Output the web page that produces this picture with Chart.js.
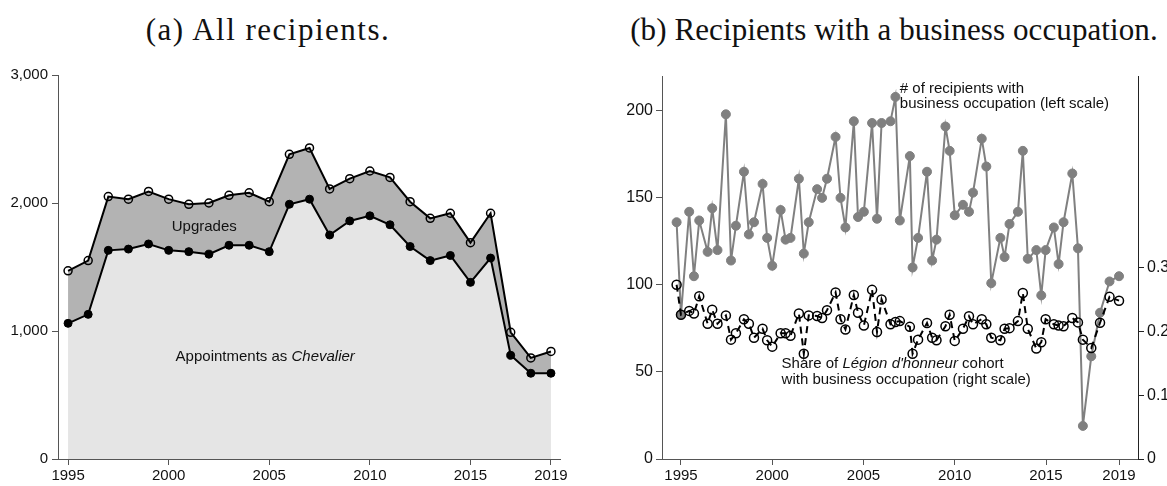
<!DOCTYPE html>
<html><head><meta charset="utf-8">
<script src="https://cdn.jsdelivr.net/npm/chart.js@4"></script>
<style>
body{margin:0;background:#fff;width:1167px;height:486px;position:relative;overflow:hidden}
canvas{position:absolute;top:0}
.title{position:absolute;top:12px;font-family:"Liberation Serif",serif;font-size:31px;line-height:36px;text-align:center;color:#111;white-space:nowrap}
</style></head><body>
<div class="title" style="left:0;width:536px;letter-spacing:1.5px">(a) All recipients.</div>
<div class="title" style="left:594px;width:600px;letter-spacing:0.1px">(b) Recipients with a business occupation.</div>
<canvas id="a" width="583" height="486" style="left:0"></canvas>
<canvas id="b" width="584" height="486" style="left:583px"></canvas>
<script>
// ---- Panel (a) data ----
const years = [1995,1996,1997,1998,1999,2000,2001,2002,2003,2004,2005,2006,2007,2008,2009,2010,2011,2012,2013,2014,2015,2016,2017,2018,2019];
const totalRecipients = [1470,1550,2050,2030,2090,2030,1990,2000,2060,2080,2010,2380,2430,2110,2190,2250,2200,2010,1880,1920,1690,1920,990,790,840];
const chevalierAppointments = [1060,1130,1630,1640,1680,1630,1620,1600,1670,1670,1620,1990,2030,1750,1860,1900,1830,1660,1550,1590,1380,1570,810,670,670];
const leftYTicks = [0,1000,2000,3000];
const leftXTicks = [1995,2000,2005,2010,2015,2019];

// ---- Panel (b) data ----
const decreeDates = [1994.76,
 1995.0,1995.45,1995.71, 1996.0,1996.46,1996.71, 1997.0,1997.46,1997.74, 1998.01,1998.45,1998.72,
 1999.0,1999.47,1999.72, 2000.0,2000.46,2000.73, 2001.0,2001.46,2001.73, 2002.0,2002.46,2002.73,
 2003.0,2003.47,2003.74, 2004.01,2004.47,2004.7, 2005.02,2005.47,2005.74, 2005.99,2006.48,2006.75,
 2006.99,2007.54,2007.69, 2007.99,2008.48,2008.76, 2009.0,2009.49,2009.72, 2010.0,2010.45,2010.78,
 2011.0,2011.48,2011.73, 2012.0,2012.5,2012.73, 2013.0,2013.46,2013.73, 2014.0,2014.47,2014.74,
 2014.98,2015.43,2015.69, 2015.96,2016.44,2016.75, 2017.02,2017.48,2017.96, 2018.48,2019.0];
const businessCount = [136,
 83,142,105, 137,119,144, 120,198,114, 134,165,129,
 136,158,127, 111,143,126, 127,161,118, 136,155,150,
 161,185,150, 133,194,139, 142,193,138, 193,194,208,
 137,174,110, 127,165,114, 126,191,177, 140,146,142,
 153,184,168, 101,127,116, 135,142,177, 115,120,94,
 120,133,112, 136,164,121, 19,59,84, 102,105];
const businessShare = [0.273,
 0.226,0.232,0.228, 0.255,0.212,0.234, 0.212,0.225,0.187, 0.197,0.219,0.212,
 0.190,0.204,0.186, 0.176,0.197,0.197, 0.193,0.228,0.165, 0.225,0.224,0.221,
 0.233,0.261,0.219, 0.203,0.257,0.229, 0.209,0.265,0.199, 0.250,0.211,0.2145,
 0.216,0.207,0.165, 0.187,0.213,0.190, 0.186,0.208,0.226, 0.185,0.204,0.2235,
 0.211,0.219,0.211, 0.190,0.186,0.204, 0.205,0.216,0.260, 0.204,0.173,0.183,
 0.219,0.211,0.209, 0.208,0.221,0.214, 0.187,0.174,0.2135, 0.254,0.248];
const rightLeftTicks = [0,50,100,150,200];
const rightRightTicks = [0,0.1,0.2,0.3];
const rightXTicks = [1995,2000,2005,2010,2015,2019];

const FONT = '"Liberation Sans", Arial, sans-serif';
const AX = '#555';
const TXT = '#111';

function fixedTicks(arr){ return function(scale){ scale.ticks = arr.map(v => ({value: v})); }; }

function drawRich(ctx, parts, x, y, align){
  const fonts = parts.map(p => (p[1] ? 'italic ' : '') + '15px ' + FONT);
  const widths = parts.map((p,i) => { ctx.font = fonts[i]; return ctx.measureText(p[0]).width; });
  const total = widths.reduce((a,b) => a + b, 0);
  let cx = align === 'center' ? x - total/2 : x;
  ctx.textAlign = 'left'; ctx.textBaseline = 'middle'; ctx.fillStyle = TXT;
  parts.forEach((p,i) => { ctx.font = fonts[i]; ctx.fillText(p[0], cx, y); cx += widths[i]; });
}

function axisStyle(extra){
  return Object.assign({
    grid:{display:true, drawOnChartArea:false, drawTicks:true, tickLength:6, tickWidth:1, color:AX},
    border:{display:true, color:AX, width:1}
  }, extra);
}

// ---- Panel (a) ----
new Chart(document.getElementById('a'), {
  type:'line',
  data:{datasets:[
    {label:'Appointments as Chevalier',
     data: years.map((y,i) => ({x:y, y:chevalierAppointments[i]})),
     borderColor:'#000', borderWidth:2, backgroundColor:'#e5e5e5', fill:'origin',
     pointRadius:4, pointBackgroundColor:'#000', pointBorderColor:'#000', pointBorderWidth:1,
     tension:0, clip:false},
    {label:'All recipients',
     data: years.map((y,i) => ({x:y, y:totalRecipients[i]})),
     borderColor:'#000', borderWidth:2, backgroundColor:'#b3b3b3', fill:'-1',
     pointRadius:4, pointBackgroundColor:'rgba(0,0,0,0)', pointBorderColor:'#000', pointBorderWidth:1.5,
     tension:0, clip:false}
  ]},
  options:{
    responsive:false, animation:false, devicePixelRatio:1,
    layout:{padding:{top:75, right:23, left:0, bottom:0}},
    plugins:{legend:{display:false}, tooltip:{enabled:false}},
    scales:{
      x: axisStyle({type:'linear', min:1994.5, max:2019.45,
          afterBuildTicks: fixedTicks(leftXTicks), afterFit: s => { s.height = 27; },
          ticks:{font:{family:FONT, size:15}, color:TXT, padding:2, maxRotation:0, autoSkip:false, callback: v => String(v)}}),
      y: axisStyle({type:'linear', min:0, max:3000,
          afterBuildTicks: fixedTicks(leftYTicks), afterFit: s => { s.width = 58; },
          ticks:{font:{family:FONT, size:15}, color:TXT, padding:4, callback: v => v.toLocaleString('en-US')}})
    }
  },
  plugins:[{id:'panelALabels', afterDatasetsDraw(chart){
    const ctx = chart.ctx, x = chart.scales.x, y = chart.scales.y;
    ctx.save();
    drawRich(ctx, [['Upgrades', false]], x.getPixelForValue(2001.77), y.getPixelForValue(1812), 'center');
    drawRich(ctx, [['Appointments as ', false], ['Chevalier', true]], x.getPixelForValue(2004.8), y.getPixelForValue(797), 'center');
    ctx.restore();
  }}]
});

// ---- Panel (b) ----
new Chart(document.getElementById('b'), {
  type:'line',
  data:{datasets:[
    {label:'Share of cohort with business occupation',
     data: decreeDates.map((d,i) => ({x:d, y:businessShare[i]})), yAxisID:'yR',
     borderColor:'#000', borderWidth:2, borderDash:[7,5], fill:false,
     pointRadius:4.5, pointBackgroundColor:'rgba(0,0,0,0)', pointBorderColor:'#000', pointBorderWidth:1.5,
     tension:0, clip:false},
    {label:'# of recipients with business occupation',
     data: decreeDates.map((d,i) => ({x:d, y:businessCount[i]})), yAxisID:'yL',
     borderColor:'#808080', borderWidth:2, fill:false,
     pointRadius:4.5, pointBackgroundColor:'#808080', pointBorderColor:'#808080', pointBorderWidth:1,
     tension:0, clip:false}
  ]},
  options:{
    responsive:false, animation:false, devicePixelRatio:1,
    layout:{padding:{top:76, right:0, left:0, bottom:0}},
    plugins:{legend:{display:false}, tooltip:{enabled:false}},
    scales:{
      x: axisStyle({type:'linear', min:1993.96, max:2020.04,
          afterBuildTicks: fixedTicks(rightXTicks), afterFit: s => { s.height = 27; },
          ticks:{font:{family:FONT, size:15}, color:TXT, padding:2, maxRotation:0, autoSkip:false, callback: v => String(v)}}),
      yL: axisStyle({type:'linear', position:'left', min:0, max:220,
          afterBuildTicks: fixedTicks(rightLeftTicks), afterFit: s => { s.width = 79; },
          ticks:{font:{family:FONT, size:16}, color:TXT, padding:3, callback: v => String(v)}}),
      yR: {type:'linear', position:'right', min:0, max:0.6,
          afterBuildTicks: fixedTicks(rightRightTicks), afterFit: s => { s.width = 29; },
          grid:{display:true, drawOnChartArea:false, drawTicks:true, tickLength:6, color:'#222'},
          border:{display:true, color:'#222', width:1},
          ticks:{font:{family:FONT, size:16}, color:TXT, padding:3, callback: v => String(v)}}
    }
  },
  plugins:[{id:'panelBLabels', afterDatasetsDraw(chart){
    const ctx = chart.ctx, x = chart.scales.x, y = chart.scales.yL;
    ctx.save();
    drawRich(ctx, [['# of recipients with', false]], x.getPixelForValue(2006.99), y.getPixelForValue(212.6), 'left');
    drawRich(ctx, [['business occupation (left scale)', false]], x.getPixelForValue(2006.99), y.getPixelForValue(204), 'left');
    drawRich(ctx, [['Share of ', false], ["L\u00e9gion d'honneur", true], [' cohort', false]], x.getPixelForValue(2000.51), y.getPixelForValue(54.6), 'left');
    drawRich(ctx, [['with business occupation (right scale)', false]], x.getPixelForValue(2000.51), y.getPixelForValue(45.4), 'left');
    ctx.restore();
  }}]
});
</script>
</body></html>
